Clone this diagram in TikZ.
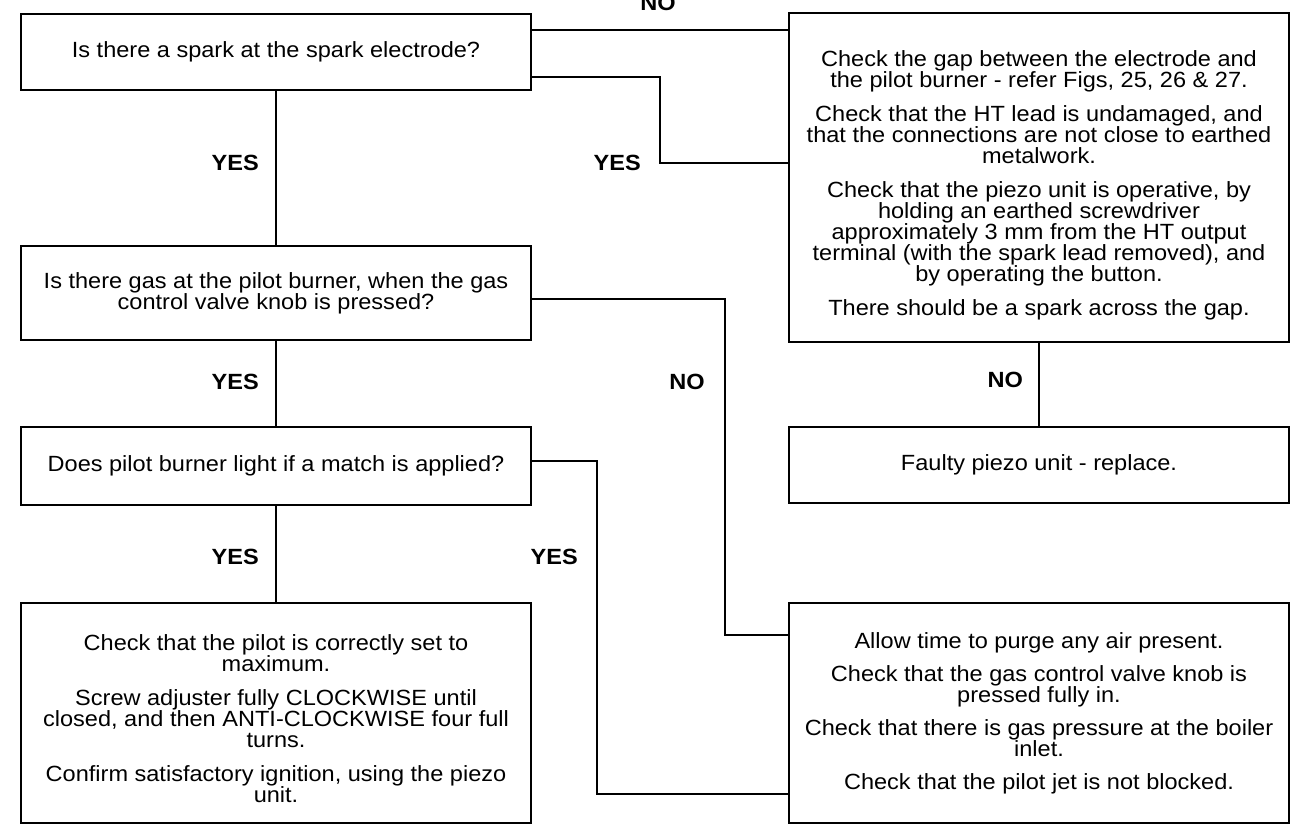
\documentclass[tikz,border=0pt]{standalone}
\usepackage{fontspec}
\setmainfont{Liberation Sans}[FakeStretch=1.07]
\begin{document}
\begin{tikzpicture}[x=1pt,y=-1pt,
  box/.style={draw, line width=2.8pt, align=center, inner sep=0pt, font=\fontsize{22}{21}\selectfont},
  conn/.style={line width=2.4pt},
  lbl/.style={font=\fontsize{22}{22}\selectfont\bfseries, anchor=east, inner sep=0pt}]
\fill[white] (0,0) rectangle (1292,825);
\useasboundingbox (0,0) rectangle (1292,825);

% left column
\node[box, minimum width=510pt, minimum height=76pt] (q1) at (276,52)
  {Is there a spark at the spark electrode?};
\node[box, minimum width=510pt, minimum height=94pt] (q2) at (276,293)
  {Is there gas at the pilot burner, when the gas\\control valve knob is pressed?};
\node[box, minimum width=510pt, minimum height=78pt] (q3) at (276,466)
  {Does pilot burner light if a match is applied?};
\node[box, minimum width=510pt, minimum height=220pt] (q4) at (276,713)
  {\rule{0pt}{28pt}Check that the pilot is correctly set to\\maximum.\\[13pt]
   Screw adjuster fully CLOCKWISE until\\closed, and then ANTI-CLOCKWISE four full\\turns.\\[13pt]
   Confirm satisfactory ignition, using the piezo\\unit.};

% right column
\node[box, minimum width=500pt, minimum height=329pt] (r1) at (1039,177.5)
  {\rule{0pt}{32pt}Check the gap between the electrode and\\the pilot burner - refer Figs, 25, 26 \& 27.\\[13pt]
   Check that the HT lead is undamaged, and\\that the connections are not close to earthed\\metalwork.\\[13pt]
   Check that the piezo unit is operative, by\\holding an earthed screwdriver\\approximately 3 mm from the HT output\\terminal (with the spark lead removed), and\\by operating the button.\\[13pt]
   There should be a spark across the gap.};
\node[box, minimum width=500pt, minimum height=76pt] (r2) at (1039,465)
  {Faulty piezo unit - replace.};
\node[box, minimum width=500pt, minimum height=220pt] (r3) at (1039,713)
  {Allow time to purge any air present.\\[12pt]
   Check that the gas control valve knob is\\pressed fully in.\\[12pt]
   Check that there is gas pressure at the boiler\\inlet.\\[12pt]
   Check that the pilot jet is not blocked.};

% bend points
\coordinate (n1) at (660,30);
\coordinate (y1a) at (660,77);
\coordinate (y1b) at (660,163);
\coordinate (n2a) at (725,299);
\coordinate (n2b) at (725,635);
\coordinate (y3a) at (597,461);
\coordinate (y3b) at (597,794);

% connectors
\draw[conn] (q1.east |- n1) -- (r1.west |- n1);
\draw[conn] (q1.east |- y1a) -- (y1a) -- (y1b) -- (r1.west |- y1b);
\draw[conn] (q1.south) -- (q2.north);
\draw[conn] (q2.east |- n2a) -- (n2a) -- (n2b) -- (r3.west |- n2b);
\draw[conn] (q2.south) -- (q3.north);
\draw[conn] (r1.south) -- (r2.north);
\draw[conn] (q3.east |- y3a) -- (y3a) -- (y3b) -- (r3.west |- y3b);
\draw[conn] (q3.south) -- (q4.north);

% labels
\node[lbl, anchor=base] (lno1) at (658,10) {NO};
\node[lbl] (lyes1) at (259,163) {YES};
\node[lbl] (lyes2) at (641,163) {YES};
\node[lbl] (lyes3) at (259,382) {YES};
\node[lbl] (lno2) at (705,382) {NO};
\node[lbl] (lno3) at (1023,380) {NO};
\node[lbl] (lyes4) at (259,557) {YES};
\node[lbl] (lyes5) at (578,557) {YES};
\end{tikzpicture}
\end{document}
